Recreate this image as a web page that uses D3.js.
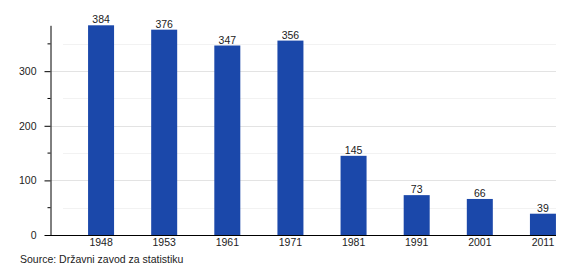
<!DOCTYPE html>
<html>
<head>
<meta charset="utf-8">
<script src="https://cdn.jsdelivr.net/npm/d3@7"></script>
<style>
  body { margin: 0; background: #fff; }
  text { font-family: "Liberation Sans", Arial, sans-serif; }
</style>
</head>
<body>
<div id="chart"></div>
<script>
const years = ['1948', '1953', '1961', '1971', '1981', '1991', '2001', '2011'];
const population = [384, 376, 347, 356, 145, 73, 66, 39];
const majorTicks = [0, 100, 200, 300];
const minorTicks = [50, 150, 250, 350];
const source = 'Source: Državni zavod za statistiku';

const width = 580, height = 280;
const fontSize = 10.5;
const svg = d3.select('#chart').append('svg')
    .attr('width', width)
    .attr('height', height);

const x = d3.scaleBand()
    .domain(years)
    .range([69.5, 574.5]);

const y = d3.scaleLinear()
    .domain([0, 384])
    .range([235, 25.3]);

const barW = 26;

// grid
svg.append('g').selectAll('line.minor')
    .data(minorTicks)
    .join('line')
    .attr('x1', 63).attr('x2', 556)
    .attr('y1', d => Math.round(y(d)) + 0.5).attr('y2', d => Math.round(y(d)) + 0.5)
    .attr('stroke', '#f2f2f2');

svg.append('g').selectAll('line.major')
    .data(majorTicks.filter(d => d > 0))
    .join('line')
    .attr('x1', 51).attr('x2', 556)
    .attr('y1', d => Math.round(y(d)) + 0.5).attr('y2', d => Math.round(y(d)) + 0.5)
    .attr('stroke', '#e3e3e3');

// bars
svg.append('g').selectAll('rect')
    .data(population)
    .join('rect')
    .attr('x', (d, i) => x(years[i]) + x.bandwidth() / 2 - barW / 2)
    .attr('y', d => y(d))
    .attr('width', barW)
    .attr('height', d => y(0) - y(d))
    .attr('fill', '#1b48aa');

// value labels
svg.append('g').selectAll('text')
    .data(population)
    .join('text')
    .attr('x', (d, i) => x(years[i]) + x.bandwidth() / 2)
    .attr('y', d => y(d) - 2)
    .attr('text-anchor', 'middle')
    .attr('font-size', fontSize)
    .attr('fill', '#222')
    .text(d => d);

// y axis
const yAxis = d3.axisLeft(y)
    .tickValues(majorTicks)
    .tickSize(6)
    .tickPadding(8)
    .tickSizeOuter(0);

const yG = svg.append('g')
    .attr('transform', 'translate(50.5,0)')
    .call(yAxis);
yG.select('.domain').attr('stroke', '#000');
yG.selectAll('.tick line').attr('stroke', '#000');
yG.selectAll('.tick text').attr('font-size', fontSize).attr('fill', '#222')
    .attr('font-family', '"Liberation Sans", Arial, sans-serif');

yG.selectAll('line.minor')
    .data(minorTicks)
    .join('line')
    .attr('class', 'minor')
    .attr('x1', -3).attr('x2', 0)
    .attr('y1', d => y(d)).attr('y2', d => y(d))
    .attr('stroke', '#000');

// x axis
const xAxis = d3.axisBottom(x)
    .tickSize(0)
    .tickPadding(3.5);

const xG = svg.append('g')
    .attr('transform', 'translate(0,' + (y(0) + 0.5) + ')')
    .call(xAxis);
xG.select('.domain').remove();
xG.selectAll('.tick text').attr('font-size', fontSize).attr('fill', '#222')
    .attr('font-family', '"Liberation Sans", Arial, sans-serif');

svg.append('line')
    .attr('x1', 50).attr('x2', 556)
    .attr('y1', y(0) + 0.5).attr('y2', y(0) + 0.5)
    .attr('stroke', '#000');

// source
svg.append('text')
    .attr('x', 20)
    .attr('y', 263)
    .attr('font-size', fontSize)
    .attr('fill', '#222')
    .text(source);
</script>
</body>
</html>
